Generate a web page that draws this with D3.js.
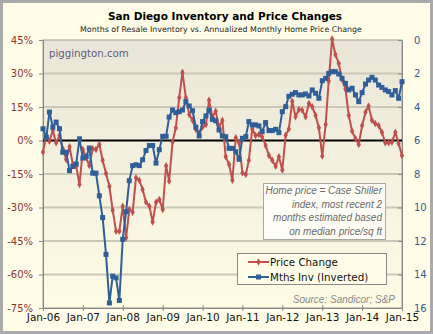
<!DOCTYPE html>
<html>
<head>
<meta charset="utf-8">
<script src="https://cdn.jsdelivr.net/npm/d3@7"></script>
<style>
  html, body { margin: 0; padding: 0; background: #fffde8; }
  svg { display: block; }
</style>
</head>
<body>
<div id="chart"></div>
<script>
// annualized monthly home price change, %, Jan-06 .. Jan-15
const priceChange = [
  -5.2, 2.2, -0.3, 4.5, -1, 2.2, -3.7, -8.5, -2.8, -10.7, -11.5, -19.7,
  -4, -7.8, -11.2, -3.7, -4, -1.8, -8.8, -14.8, -20.5, -31.2, -40.6, -40.6,
  -29.4, -43.6, -30.9, -32.1, -16.7, -17.8, -21.9, -27.6, -29.4, -36.5, -27.6, -26.4,
  -30.9, -11.3, -18.2, -0.7, 5.7, 19.1, 30.6, 19.1, 11.6, 9.1, 4.9, 3.4,
  6.1, 7.2, 18, 10.6, 13.1, 6.1, 9.1, -7.3, -10.7, -17.8, 1.2, -1,
  -14.5, -15.2, -8.8, 5.2, 2.2, 2.7, 1.6, -2.2, -6.7, -8.8, -11.5, -7.3,
  -13.2, 2.4, 5.2, 17.6, 10.6, 13.9, 13.6, 10.6, 16.6, 15.1, 11.2, 5.7,
  -7, 7.2, 26.6, 45.5, 38.5, 34.5, 27.3, 23.1, 11.2, 4.2, 0.8, -1.8,
  6.7, 12.7, 15.4, 9.1, 7.6, 6.7, 3.7, -1, -1, -0.7, 3.7, -1.3,
  -6.7
];

// months of resale inventory (plotted on the inverted right axis)
const monthsInv = [
  5.3, 5.8, 4.3, 5.2, 4.9, 5.3, 6.7, 6.7, 7.8, 7.55, 7.4, 5.9,
  7.05, 6.95, 6.45, 7.95, 7.95, 9.3, 10.6, 12.8, 15.7, 14.1, 14.2, 15.55,
  11.9, 10.25, 8.4, 7.5, 7.45, 7.5, 7.15, 6.6, 6.3, 6.3, 7.35, 6.55,
  5.75, 5.75, 4.6, 4.18, 4.34, 4.28, 4.18, 3.68, 3.94, 4.22, 5.21, 5.73,
  4.87, 4.53, 4.18, 4.74, 4.82, 5.37, 5.73, 5.77, 6.47, 6.47, 6.67, 7.12,
  5.87, 5.77, 4.87, 5.07, 5.07, 5.13, 5.47, 4.93, 5.41, 5.41, 5.33, 5.53,
  4.28, 3.98, 3.36, 3.24, 3.14, 3.28, 3.28, 3.22, 3.34, 2.98, 3.18, 3.48,
  2.43, 2.29, 1.99, 1.89, 1.89, 2.03, 2.29, 2.59, 2.98, 2.88, 3.28, 3.68,
  3.14, 2.63, 2.39, 2.23, 2.39, 2.69, 2.83, 2.98, 3.08, 3.28, 3.02, 3.48,
  2.49
];

const pctTicks = [45, 30, 15, 0, -15, -30, -45, -60, -75];
const invTicks = [0, 2, 4, 6, 8, 10, 12, 14, 16];
const yearTicks = d3.range(2006, 2016).map(yr => new Date(yr, 0, 1));
const months = d3.timeMonth.range(new Date(2006, 0, 1), new Date(2015, 1, 1));

const noteLines = [
  'Home price = Case Shiller',
  'index, most recent 2',
  'months estimated based',
  'on median price/sq ft',
];

const W = 433;
const H = 334;
const margin = { top: 40, right: 31, bottom: 26, left: 43 };
const plotW = W - margin.left - margin.right;
const plotH = H - margin.top - margin.bottom;

const RED = '#c0504d';
const BLUE = '#2f5e98';
const FONT = '"DejaVu Sans", Verdana, sans-serif';
const ARIAL = '"Liberation Sans", Arial, sans-serif';

const svg = d3
  .select('#chart')
  .append('svg')
  .attr('width', W)
  .attr('height', H);

const defs = svg.append('defs');
const grad = defs
  .append('linearGradient')
  .attr('id', 'plotbg')
  .attr('x1', 0)
  .attr('y1', 0)
  .attr('x2', 0)
  .attr('y2', 1);
grad.append('stop').attr('offset', '0%').attr('stop-color', '#e9e6d9');
grad.append('stop').attr('offset', '100%').attr('stop-color', '#fffce4');

// outer frame
svg
  .append('rect')
  .attr('x', 1.5)
  .attr('y', 1.5)
  .attr('width', W - 3)
  .attr('height', H - 3)
  .attr('fill', '#fffde8')
  .attr('stroke', '#aaaaaa')
  .attr('stroke-width', 3);

svg
  .append('text')
  .attr('x', 225)
  .attr('y', 20)
  .attr('text-anchor', 'middle')
  .style('font-family', FONT)
  .style('font-weight', 'bold')
  .style('font-size', '10.5px')
  .text('San Diego Inventory and Price Changes');

svg
  .append('text')
  .attr('x', 221)
  .attr('y', 32)
  .attr('text-anchor', 'middle')
  .style('font-family', FONT)
  .style('font-size', '7.9px')
  .attr('fill', '#222')
  .text('Months of Resale Inventory vs. Annualized Monthly Home Price Change');

const g = svg
  .append('g')
  .attr('transform', `translate(${margin.left},${margin.top})`);

const x = d3
  .scaleTime()
  .domain([new Date(2006, 0, 1), new Date(2015, 0, 1)])
  .range([0, plotW]);
const yPct = d3.scaleLinear().domain([-75, 45]).range([plotH, 0]);
const yInv = d3.scaleLinear().domain([0, 16]).range([0, plotH]);

g.append('rect')
  .attr('width', plotW)
  .attr('height', plotH)
  .attr('fill', 'url(#plotbg)');

// gridlines
g.append('g')
  .selectAll('line')
  .data(pctTicks.filter(d => d !== 45 && d !== -75 && d !== 0))
  .join('line')
  .attr('x1', 0)
  .attr('x2', plotW)
  .attr('y1', d => yPct(d))
  .attr('y2', d => yPct(d))
  .attr('stroke', '#ccc8b7')
  .attr('stroke-width', 2);

g.append('rect')
  .attr('width', plotW)
  .attr('height', plotH)
  .attr('fill', 'none')
  .attr('stroke', '#a09d92')
  .attr('stroke-width', 1);

// axes
const leftAxis = g
  .append('g')
  .call(
    d3
      .axisLeft(yPct)
      .tickValues(pctTicks)
      .tickFormat(d => d + '%')
      .tickSize(4)
      .tickPadding(6)
  );
leftAxis.select('.domain').attr('stroke', '#888');
leftAxis.selectAll('.tick line').attr('stroke', '#888');
leftAxis
  .selectAll('text')
  .attr('fill', '#8e3431')
  .style('font-family', FONT)
  .style('font-size', '10px');

const rightAxis = g
  .append('g')
  .attr('transform', `translate(${plotW},0)`)
  .call(
    d3
      .axisRight(yInv)
      .tickValues(invTicks)
      .tickSizeInner(-4)
      .tickSizeOuter(0)
      .tickPadding(12)
  );
rightAxis.select('.domain').attr('stroke', '#888');
rightAxis.selectAll('.tick line').attr('stroke', '#888');
rightAxis
  .selectAll('text')
  .attr('fill', '#3b5a8c')
  .style('font-family', FONT)
  .style('font-size', '10px');

const bottomAxis = g
  .append('g')
  .attr('transform', `translate(0,${plotH})`)
  .call(
    d3
      .axisBottom(x)
      .tickValues(yearTicks.slice(0, 10))
      .tickFormat(d3.timeFormat('%b-%y'))
      .tickSize(3)
      .tickPadding(3)
  );
bottomAxis.select('.domain').attr('stroke', '#888');
bottomAxis
  .selectAll('.tick line')
  .attr('stroke', '#888')
  .attr('y1', -3);
bottomAxis
  .selectAll('text')
  .attr('fill', '#111')
  .style('font-family', FONT)
  .style('font-size', '10.5px');

// zero line
g.append('line')
  .attr('x1', 0)
  .attr('x2', plotW)
  .attr('y1', yPct(0))
  .attr('y2', yPct(0))
  .attr('stroke', '#000')
  .attr('stroke-width', 2);

g.append('text')
  .attr('x', 6)
  .attr('y', 17)
  .attr('fill', '#5d5b7a')
  .style('font-family', FONT)
  .style('font-size', '10.2px')
  .text('piggington.com');

// series
const priceLine = d3
  .line()
  .x((d, i) => x(months[i]))
  .y(d => yPct(d));
const invLine = d3
  .line()
  .x((d, i) => x(months[i]))
  .y(d => yInv(d));

g.append('path')
  .datum(priceChange)
  .attr('fill', 'none')
  .attr('stroke', RED)
  .attr('stroke-width', 2)
  .attr('stroke-linejoin', 'round')
  .attr('d', priceLine);

g.append('g')
  .selectAll('path')
  .data(priceChange)
  .join('path')
  .attr('d', d3.symbol(d3.symbolDiamond, 16))
  .attr('transform', (d, i) => `translate(${x(months[i])},${yPct(d)})`)
  .attr('fill', RED);

g.append('path')
  .datum(monthsInv)
  .attr('fill', 'none')
  .attr('stroke', BLUE)
  .attr('stroke-width', 2)
  .attr('stroke-linejoin', 'round')
  .attr('d', invLine);

g.append('g')
  .selectAll('rect')
  .data(monthsInv)
  .join('rect')
  .attr('x', (d, i) => x(months[i]) - 2.5)
  .attr('y', d => yInv(d) - 2.5)
  .attr('width', 5)
  .attr('height', 5)
  .attr('fill', BLUE);

// note box
const note = svg.append('g');
note
  .append('rect')
  .attr('x', 263.5)
  .attr('y', 183.5)
  .attr('width', 122)
  .attr('height', 56)
  .attr('fill', '#fffef6')
  .attr('stroke', '#a8a8a0');
note
  .selectAll('text')
  .data(noteLines)
  .join('text')
  .attr('x', 382)
  .attr('y', (d, i) => 194 + i * 13.6)
  .attr('text-anchor', 'end')
  .attr('fill', '#6a6a6a')
  .style('font-family', ARIAL)
  .style('font-style', 'italic')
  .style('font-size', '10px')
  .text(d => d);

// legend
const legend = svg.append('g');
legend
  .append('rect')
  .attr('x', 237.5)
  .attr('y', 253.5)
  .attr('width', 149)
  .attr('height', 31)
  .attr('fill', '#fffde8')
  .attr('stroke', '#8a8a8a');

const legendItems = [
  { label: 'Price Change', color: RED, shape: 'diamond' },
  { label: 'Mths Inv (Inverted)', color: BLUE, shape: 'square' },
];
legendItems.forEach((item, i) => {
  const ly = 262 + i * 15;
  legend
    .append('line')
    .attr('x1', 248)
    .attr('x2', 269)
    .attr('y1', ly)
    .attr('y2', ly)
    .attr('stroke', item.color)
    .attr('stroke-width', 2);
  if (item.shape === 'diamond') {
    legend
      .append('path')
      .attr('d', d3.symbol(d3.symbolDiamond, 16))
      .attr('transform', `translate(258.5,${ly})`)
      .attr('fill', item.color);
  } else {
    legend
      .append('rect')
      .attr('x', 256)
      .attr('y', ly - 2.5)
      .attr('width', 5)
      .attr('height', 5)
      .attr('fill', item.color);
  }
  legend
    .append('text')
    .attr('x', 270)
    .attr('y', ly + 3.8)
    .style('font-family', FONT)
    .style('font-size', '10.3px')
    .attr('fill', '#111')
    .text(item.label);
});

svg
  .append('text')
  .attr('x', 395)
  .attr('y', 303)
  .attr('text-anchor', 'end')
  .attr('fill', '#8a8a8a')
  .style('font-family', ARIAL)
  .style('font-style', 'italic')
  .style('font-size', '10px')
  .text('Source: Sandicor; S&P');
</script>
</body>
</html>
